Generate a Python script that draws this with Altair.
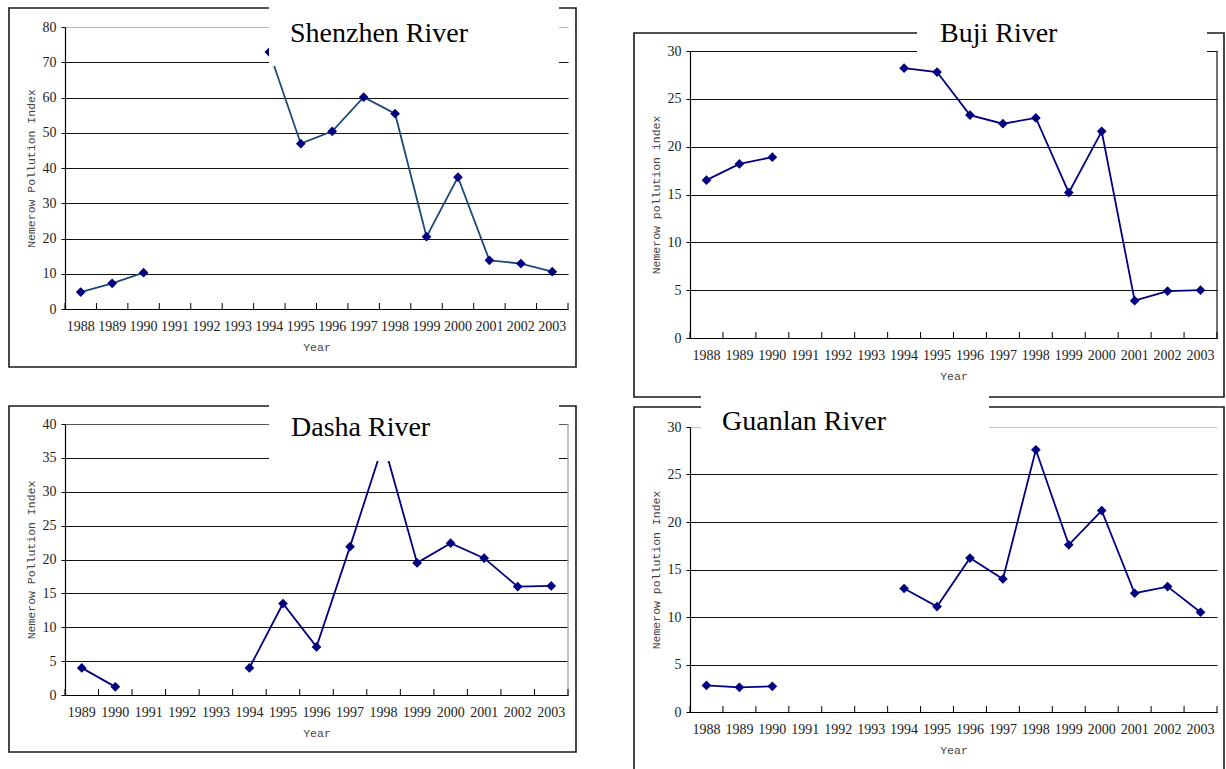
import altair as alt
import pandas as pd

# Categories (years) and Nemerow pollution index per river
years_88 = [str(y) for y in range(1988, 2004)]
years_89 = [str(y) for y in range(1989, 2004)]

shenzhen = [4.8, 7.3, 10.3, None, None, None, 72.9, 46.9, 50.4, 60.1, 55.4, 20.5, 37.4, 13.8, 12.9, 10.6]
buji = [16.5, 18.2, 18.9, None, None, None, 28.2, 27.8, 23.3, 22.4, 23.0, 15.2, 21.6, 3.9, 4.9, 5.0]
dasha = [4.0, 1.2, None, None, None, 4.0, 13.5, 7.1, 21.9, 37.2, 19.5, 22.4, 20.2, 16.0, 16.1]
guanlan = [2.8, 2.6, 2.7, None, None, None, 13.0, 11.1, 16.2, 14.0, 27.6, 17.6, 21.2, 12.5, 13.2, 10.5]

LABEL_FONT = "Liberation Serif"
TITLE_FONT = "Liberation Mono"
NAVY = "#000080"


def panel(name, years, values, ymax, ystep, w, h, plot_top, y_title, line_color,
          top_grid, border, frame, box, title_xy):
    df = pd.DataFrame({"year": years, "value": values}).dropna()
    df["seg"] = ["early" if int(y) <= 1990 else "late" for y in df["year"]]
    one = pd.DataFrame({"name": [name]})
    ticks = pd.DataFrame({"year": years})
    last = pd.DataFrame({"year": years[-1:]})

    x_axis = alt.Axis(
        title="Year", labelAngle=0, ticks=False, tickSize=0, grid=False,
        labelFont=LABEL_FONT, labelFontSize=14, labelColor="#222", labelPadding=10,
        domainColor="#000", domainWidth=1.2,
        titleFont=TITLE_FONT, titleFontSize=11.5, titleFontWeight="normal",
        titleColor="#444", titlePadding=8,
    )
    x_scale = alt.Scale(type="band", domain=years, paddingInner=0, paddingOuter=0)

    def xenc(pos=0.5):
        return alt.X("year:N", scale=x_scale, axis=x_axis, bandPosition=pos)

    y = alt.Y(
        "value:Q",
        scale=alt.Scale(domain=[0, ymax], range=[h, plot_top], nice=False, zero=True),
        axis=alt.Axis(
            values=list(range(0, ymax + 1, ystep)), title=y_title, grid=True,
            gridColor={"condition": {"test": f"datum.value === {ymax}", "value": top_grid},
                       "value": "#111111"},
            gridWidth=1, tickSize=4, tickColor="#000", domainColor="#000", domainWidth=1.2,
            labelFont=LABEL_FONT, labelFontSize=14, labelColor="#222", labelPadding=5,
            titleFont=TITLE_FONT, titleFontSize=11.5, titleFontWeight="normal",
            titleColor="#444", titlePadding=6,
        ),
    )

    layers = []
    # outer chart frame
    fx1, fx2, fy1, fy2 = frame
    layers.append(
        alt.Chart(one).mark_rect(fillOpacity=0, stroke="#1a1a1a", strokeWidth=1.6).encode(
            x=alt.value(fx1), x2=alt.value(fx2), y=alt.value(fy1), y2=alt.value(fy2))
    )
    # plot-area right border
    if border:
        layers.append(
            alt.Chart(one).mark_rule(color=border, strokeWidth=1.2).encode(
                x=alt.value(w), y=alt.value(plot_top), y2=alt.value(h))
        )
    # category tick marks pointing into the plot
    layers.append(
        alt.Chart(ticks).mark_rule(color="#000", strokeWidth=1).encode(
            x=xenc(0), y=alt.value(h - 6), y2=alt.value(h))
    )
    layers.append(
        alt.Chart(last).mark_rule(color="#000", strokeWidth=1).encode(
            x=xenc(1), y=alt.value(h - 6), y2=alt.value(h))
    )
    # data line and diamond markers
    layers.append(
        alt.Chart(df).mark_line(color=line_color, strokeWidth=1.8).encode(
            x=xenc(), y=y, detail="seg:N")
    )
    layers.append(
        alt.Chart(df).mark_point(shape="diamond", filled=True, size=95, color=NAVY, opacity=1).encode(
            x=xenc(), y=y)
    )
    # white title box and title
    bx1, bx2, by1, by2 = box
    layers.append(
        alt.Chart(one).mark_rect(color="white").encode(
            x=alt.value(bx1), x2=alt.value(bx2), y=alt.value(by1), y2=alt.value(by2))
    )
    tx, ty = title_xy
    layers.append(
        alt.Chart(one).mark_text(font=LABEL_FONT, fontSize=28, align="left",
                                 baseline="alphabetic", color="#000").encode(
            x=alt.value(tx), y=alt.value(ty), text="name:N")
    )
    return alt.layer(*layers).properties(width=w, height=h)


p_shenzhen = panel("Shenzhen River", years_88, shenzhen, 80, 10, 503, 282, 0,
                   "Nemerow Pollution Index", "#1b4a78", "#b8b8b8", None,
                   (-56, 511, -19, 340), (204, 494, -27, 39), (225, 15))
p_buji = panel("Buji River", years_88, buji, 30, 5, 527, 311, 24,
               "Nemerow pollution index", NAVY, "#111111", "#111111",
               (-56, 534, 6, 370), (227, 517, -22, 29), (250, 15))
p_dasha = panel("Dasha River", years_89, dasha, 40, 5, 503, 271, 0,
                "Nemerow Pollution Index", NAVY, "#555555", "#9a9a9a",
                (-56, 511, -18, 328), (204, 494, -26, 37), (226, 12))
p_guanlan = panel("Guanlan River", years_88, guanlan, 30, 5, 527, 288, 3,
                  "Nemerow pollution Index", NAVY, "#c4c4c4", None,
                  (-56, 534, -17, 420), (11, 299, -36, 8), (32, 6))

chart = alt.concat(
    p_shenzhen, p_buji, p_dasha, p_guanlan,
    columns=2, spacing={"row": 86, "column": 122}, bounds="flush", align="each",
).properties(
    autosize=alt.AutoSizeParams(type="none"),
    padding={"left": 65, "top": 27, "right": 1161, "bottom": 742},
    background="white",
).configure_view(strokeOpacity=0)

chart.save("out.html", embed_options={"renderer": "svg", "actions": False})
